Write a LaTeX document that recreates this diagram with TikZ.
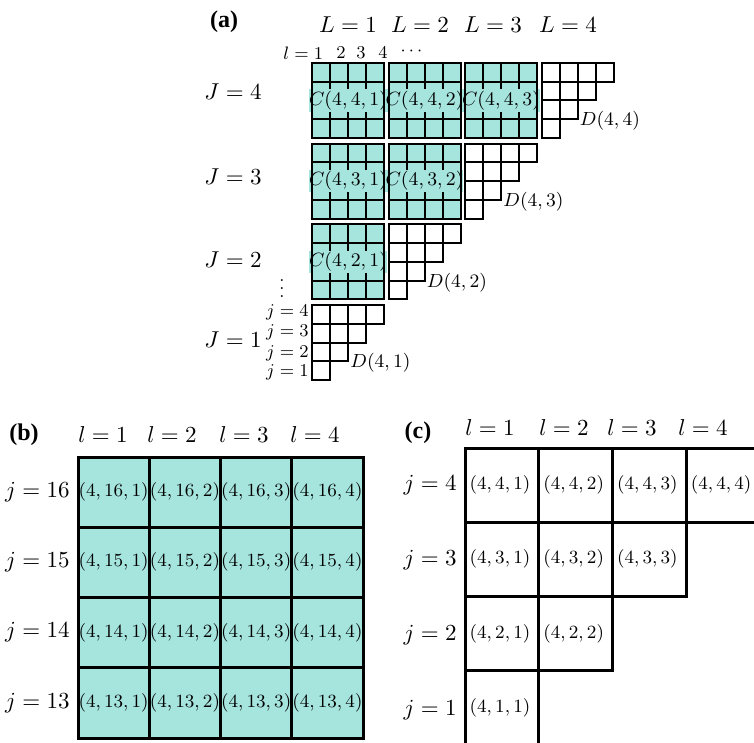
\RequirePackage{fix-cm}
\documentclass[tikz,border=0pt]{standalone}
\usepackage{fontspec}
\newfontfamily\tagfont{Liberation Serif}
\definecolor{cellteal}{RGB}{166,228,222}
\usepackage{amsmath}
\usepackage{tikz}
\usetikzlibrary{positioning}

\begin{document}
\begin{tikzpicture}[x=0.5pt, y=-0.5pt,
    panel/.style={font=\tagfont\bfseries\fontsize{12}{14}\selectfont, inner sep=0pt},
    axis/.style={font=\fontsize{11.5}{13}\selectfont, inner sep=1pt},
    idx/.style={font=\fontsize{9}{10}\selectfont, inner sep=1pt},
    blocklabel/.style={font=\fontsize{9.6}{11}\selectfont, fill=cellteal, inner xsep=0pt, inner ysep=0.8pt},
    stairlabel/.style={font=\fontsize{9.5}{11}\selectfont, inner sep=1pt, anchor=west},
    cell/.style={font=\fontsize{9.3}{11}\selectfont, inner sep=0pt},
    thinline/.style={line width=1pt},
    boxline/.style={line width=1.5pt}]
    \useasboundingbox (0,0) rectangle (754,743);

    % (a) blocks C(4,J,L) and staircases D(4,J)
    \node[panel] (tag-a) at (224,22) {(a)};
    \foreach \L/\x in {1/348,2/420,3/493,4/568}
        \node[axis] (L\L) at (\x,25) {$L=\L$};
    \node[idx, anchor=west] (l1) at (281,53) {$l=1$};
    \foreach \k/\x in {2/341,3/361,4/383}
        \node[idx] (l\k) at (\x,53) {$\k$};
    \node[idx] (ldots) at (413,51) {$\cdots$};

    \foreach \J/\y in {4/92,3/177,2/260,1/340}
        \node[axis, anchor=east] (J\J) at (264,\y) {$J=\J$};
    \node[idx] (Jdots) at (282,283) {$\vdots$};
    \foreach \k/\y in {4/312,3/332,2/353,1/372}
        \node[idx, anchor=east] (j\k) at (311,\y) {$j=\k$};

    \foreach \J/\L in {4/1,4/2,4/3,3/1,3/2,2/1} {
        \pgfmathsetmacro\x{312+76.5*(\L-1)}
        \pgfmathsetmacro\y{63+80.7*(4-\J)}
        \fill[cellteal] (\x,\y) rectangle ++(72,75);
        \foreach \k in {1,2,3} {
            \draw[thinline] (\x+18*\k,\y) -- ++(0,75);
            \draw[thinline] (\x,\y+18.75*\k) -- ++(72,0);
        }
        \node[blocklabel] (C-\J-\L) at (\x+36,\y+37.5) {$C(4,\J,\L)$};
        \draw[thinline] (\x,\y) rectangle ++(72,75);
    }

    \foreach \J in {4,3,2,1} {
        \pgfmathsetmacro\x{312+76.5*(\J-1)}
        \pgfmathsetmacro\y{63+80.7*(4-\J)}
        \foreach \r [evaluate=\r as \n using int(3-\r)] in {0,...,3} {
            \foreach \c in {0,...,\n}
                \draw[thinline] (\x+18*\c,\y+18.75*\r) rectangle ++(18,18.75);
        }
        \node[stairlabel] (D-\J) at (\x+36,\y+58) {$D(4,\J)$};
    }

    % (b) full block j = 13..16
    \node[panel] (tag-b) at (24,435) {(b)};
    \foreach \c/\x in {1/103,2/172,3/244,4/315}
        \node[axis] (b-l\c) at (\x,435) {$l=\c$};
    \fill[cellteal] (78,457) rectangle (363,738);
    \foreach \k in {1,2,3} {
        \draw[boxline] (78+71.25*\k,457) -- ++(0,281);
        \draw[boxline] (78,457+70.25*\k) -- ++(285,0);
    }
    \draw[boxline] (78,457) rectangle (363,738);
    \foreach \r/\j in {0/16,1/15,2/14,3/13} {
        \node[axis, anchor=east] (b-j\j) at (72,457+70.25*\r+35) {$j=\j$};
        \foreach \c in {1,...,4}
            \node[cell] (b-\j-\c) at (78+71.25*\c-35.6,457+70.25*\r+35) {$(4,\j,\c)$};
    }

    % (c) staircase j = 1..4
    \node[panel] (tag-c) at (418,433) {(c)};
    \foreach \c/\x in {1/490,2/564,3/632,4/703}
        \node[axis] (c-l\c) at (\x,428) {$l=\c$};
    \foreach \j/\y in {4/485,3/560,2/635,1/710}
        \node[axis, anchor=east] (c-j\j) at (459,\y) {$j=\j$};
    \begin{scope}
        \clip (380,400) rectangle (754,743);
        \foreach \r [evaluate=\r as \n using int(3-\r), evaluate=\r as \j using int(4-\r)] in {0,...,3} {
            \foreach \c [evaluate=\c as \l using int(\c+1)] in {0,...,\n} {
                \draw[boxline] (465+73.7*\c,448+74.3*\r) rectangle ++(73.7,74.3);
                \node[cell] (c-\j-\l) at (465+73.7*\c+35,448+74.3*\r+37) {$(4,\j,\l)$};
            }
        }
    \end{scope}
\end{tikzpicture}
\end{document}
